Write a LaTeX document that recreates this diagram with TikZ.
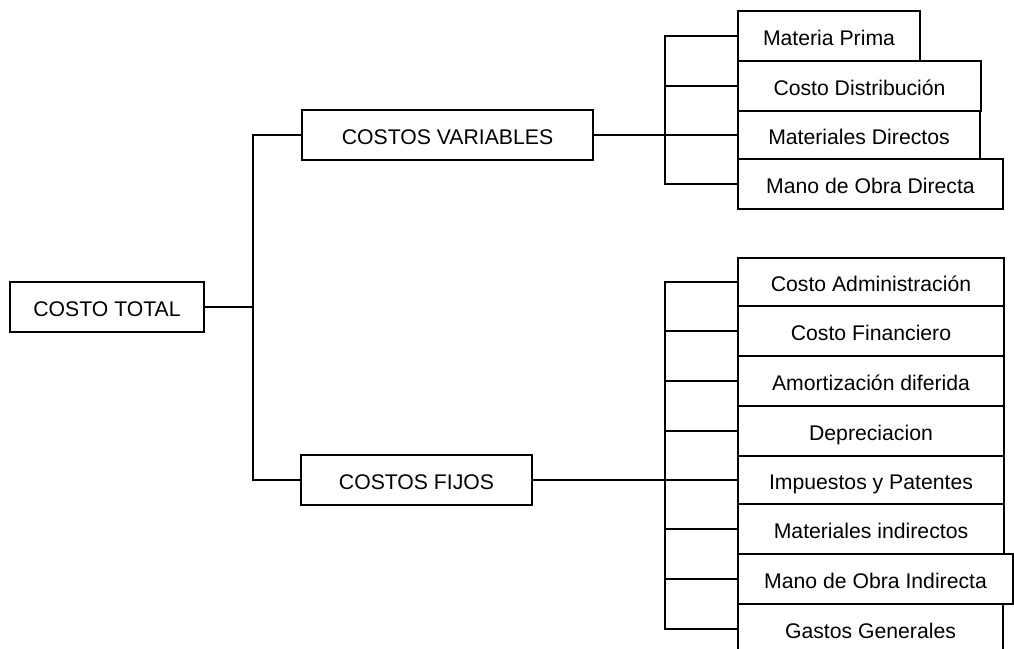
\documentclass[tikz,border=0pt]{standalone}
\usepackage{fontspec}
\setmainfont{Liberation Sans}
\begin{document}
\begin{tikzpicture}[x=1pt,y=-1pt,
  box/.style={draw=black, line width=2pt, fill=white, inner sep=0pt,
    text height=18pt, text depth=0pt, font=\fontsize{21.2}{25}\selectfont},
  conn/.style={draw=black, line width=2pt}]
\useasboundingbox (0,0) rectangle (1014,648);
% junction coordinates
\coordinate (jx) at (253,0);
\coordinate (bx) at (665,0);
% main boxes
\node[box, minimum width=194pt, minimum height=50pt] (total) at (107,307) {COSTO TOTAL};
\node[box, minimum width=291pt, minimum height=50pt] (var) at (447.5,135) {COSTOS VARIABLES};
\node[box, minimum width=231pt, minimum height=50pt] (fij) at (416.5,480) {COSTOS FIJOS};
% variable items
\node[box, minimum width=182pt, minimum height=50pt] (v1) at (829,36) {Materia Prima};
\node[box, minimum width=243pt, minimum height=50pt] (v2) at (859.5,86) {Costo Distribución};
\node[box, minimum width=242pt, minimum height=48pt] (v3) at (859,135) {Materiales Directos};
\node[box, minimum width=265pt, minimum height=50pt] (v4) at (870.5,184) {Mano de Obra Directa};
% fixed items
\node[box, minimum width=266pt, minimum height=48pt] (f1) at (871,282) {Costo Administración};
\node[box, minimum width=266pt, minimum height=50pt] (f2) at (871,331) {Costo Financiero};
\node[box, minimum width=266pt, minimum height=50pt] (f3) at (871,381) {Amortización diferida};
\node[box, minimum width=266pt, minimum height=50pt] (f4) at (871,431) {Depreciacion};
\node[box, minimum width=266pt, minimum height=48pt] (f5) at (871,480) {Impuestos y Patentes};
\node[box, minimum width=266pt, minimum height=50pt] (f6) at (871,529) {Materiales indirectos};
\node[box, minimum width=275pt, minimum height=50pt] (f7) at (875.5,579) {Mano de Obra Indirecta};
\node[box, minimum width=265pt, minimum height=50pt] (f8) at (870.5,629) {Gastos Generales};
% connectors: total to level 1
\draw[conn] (total.east) -- (total.east -| jx);
\draw[conn] (var.west) -| (jx |- total.east) |- (fij.west);
% variable branch
\draw[conn] (var.east) -- (var.east -| bx);
\draw[conn] (v1.west) -| (bx |- v4.west) -- (v4.west);
\foreach \n in {v2,v3} \draw[conn] (\n.west) -- (\n.west -| bx);
% fixed branch
\draw[conn] (fij.east) -- (fij.east -| bx);
\draw[conn] (f1.west) -| (bx |- f8.west) -- (f8.west);
\foreach \n in {f2,f3,f4,f5,f6,f7} \draw[conn] (\n.west) -- (\n.west -| bx);
\end{tikzpicture}
\end{document}
